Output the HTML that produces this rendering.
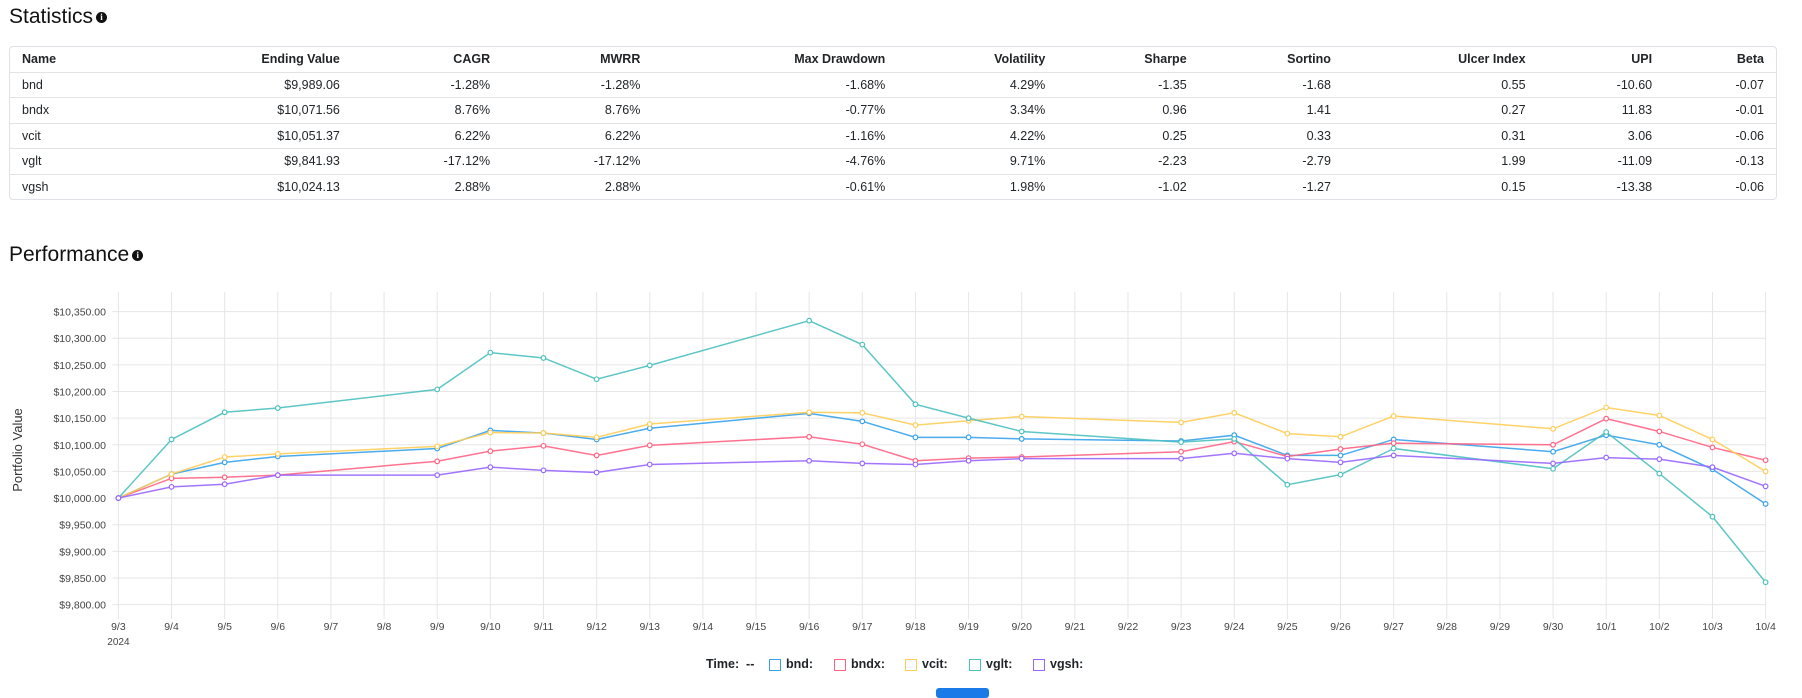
<!DOCTYPE html>
<html><head><meta charset="utf-8">
<style>
body{margin:0;width:1802px;height:695px;overflow:hidden;background:#fff;font-family:"Liberation Sans",sans-serif;color:#212529;position:relative}
.title{position:absolute;left:9px;font-size:21px;color:#111}
.info{display:inline-block;width:11px;height:11px;border-radius:50%;background:#111;color:#fff;font-size:9px;line-height:11px;text-align:center;font-weight:bold;vertical-align:3px;margin-left:3px;font-family:"Liberation Serif",serif}
table{position:absolute;left:9px;top:46px;width:1768px;border:1px solid #dee2e6;border-radius:4px;border-collapse:separate;border-spacing:0;font-size:12.5px}
td,th{height:24.5px;padding:0 12px;text-align:right;border-top:1px solid #e3e3e3;white-space:nowrap}
tr:first-child th{border-top:none}
th{font-weight:bold}
td:first-child,th:first-child{text-align:left}
#legend{position:absolute;top:657px;left:706px;font-size:12.5px;font-weight:bold}
.lg{position:absolute;white-space:nowrap}
.box{display:inline-block;width:12px;height:12px;border:1.5px solid;vertical-align:-3px;margin-right:5px;box-sizing:border-box}
#btn{position:absolute;left:936px;top:688px;width:53px;height:10px;background:#1a7be8;border-radius:3px}
</style></head><body>
<div class="title" style="top:5px">Statistics<span class="info">i</span></div>
<table>
<tr><th>Name</th><th>Ending Value</th><th>CAGR</th><th>MWRR</th><th>Max Drawdown</th><th>Volatility</th><th>Sharpe</th><th>Sortino</th><th>Ulcer Index</th><th>UPI</th><th>Beta</th></tr>
<tr><td>bnd</td><td>$9,989.06</td><td>-1.28%</td><td>-1.28%</td><td>-1.68%</td><td>4.29%</td><td>-1.35</td><td>-1.68</td><td>0.55</td><td>-10.60</td><td>-0.07</td></tr>
<tr><td>bndx</td><td>$10,071.56</td><td>8.76%</td><td>8.76%</td><td>-0.77%</td><td>3.34%</td><td>0.96</td><td>1.41</td><td>0.27</td><td>11.83</td><td>-0.01</td></tr>
<tr><td>vcit</td><td>$10,051.37</td><td>6.22%</td><td>6.22%</td><td>-1.16%</td><td>4.22%</td><td>0.25</td><td>0.33</td><td>0.31</td><td>3.06</td><td>-0.06</td></tr>
<tr><td>vglt</td><td>$9,841.93</td><td>-17.12%</td><td>-17.12%</td><td>-4.76%</td><td>9.71%</td><td>-2.23</td><td>-2.79</td><td>1.99</td><td>-11.09</td><td>-0.13</td></tr>
<tr><td>vgsh</td><td>$10,024.13</td><td>2.88%</td><td>2.88%</td><td>-0.61%</td><td>1.98%</td><td>-1.02</td><td>-1.27</td><td>0.15</td><td>-13.38</td><td>-0.06</td></tr>
</table>
<div class="title" style="top:243px">Performance<span class="info">i</span></div>
<svg id="chart" width="1802" height="695" style="position:absolute;left:0;top:0"></svg>
<div id="legend">
<span class="lg" style="left:0">Time:&nbsp; --</span>
<span class="lg" style="left:63px"><span class="box" style="border-color:#36a2eb"></span>bnd:</span>
<span class="lg" style="left:128px"><span class="box" style="border-color:#ff6384"></span>bndx:</span>
<span class="lg" style="left:199px"><span class="box" style="border-color:#ffcd56"></span>vcit:</span>
<span class="lg" style="left:263px"><span class="box" style="border-color:#4bc0c0"></span>vglt:</span>
<span class="lg" style="left:327px"><span class="box" style="border-color:#9966ff"></span>vgsh:</span>
</div>
<div id="btn"></div>
<script>
const axisDays = ["9/3","9/4","9/5","9/6","9/7","9/8","9/9","9/10","9/11","9/12","9/13","9/14","9/15","9/16","9/17","9/18","9/19","9/20","9/21","9/22","9/23","9/24","9/25","9/26","9/27","9/28","9/29","9/30","10/1","10/2","10/3","10/4"];
const tradeDays = ["9/3","9/4","9/5","9/6","9/9","9/10","9/11","9/12","9/13","9/16","9/17","9/18","9/19","9/20","9/23","9/24","9/25","9/26","9/27","9/30","10/1","10/2","10/3","10/4"];
const yTicks = [10350,10300,10250,10200,10150,10100,10050,10000,9950,9900,9850,9800];
const bnd  = [10000,10045,10067,10078,10093,10127,10122,10110,10131,10159,10144,10114,10114,10111,10107,10118,10080,10080,10110,10087,10118,10100,10054,9989];
const bndx = [10000,10037,10039,10043,10069,10088,10098,10080,10099,10115,10101,10070,10075,10077,10087,10106,10078,10092,10103,10100,10149,10125,10095,10071];
const vcit = [10000,10045,10077,10083,10097,10123,10122,10114,10139,10161,10160,10137,10145,10153,10142,10160,10121,10115,10154,10130,10170,10155,10110,10050];
const vglt = [10000,10110,10161,10169,10204,10273,10263,10223,10249,10333,10288,10176,10150,10125,10105,10111,10025,10044,10093,10055,10124,10046,9965,9842];
const vgsh = [10000,10021,10026,10043,10043,10058,10052,10048,10063,10070,10065,10063,10070,10074,10074,10084,10074,10067,10080,10065,10076,10073,10058,10022];
const svg=document.getElementById('chart');const NS='http://www.w3.org/2000/svg';
const X0=118.4,X1=1765.6,Y350=311.6,Y800=604.6;
const xs=d=>X0+axisDays.indexOf(d)*(X1-X0)/(axisDays.length-1);
const ys=v=>Y350+(10350-v)*(Y800-Y350)/550;
function mk(t,a){const e=document.createElementNS(NS,t);for(const k in a)e.setAttribute(k,a[k]);svg.appendChild(e);return e;}
axisDays.forEach(d=>{const x=xs(d);
 const g=mk('line',{x1:x,x2:x,y1:292,y2:619,stroke:'#e6e6e6','stroke-width':1});
 
 
 const t=mk('text',{x:x,y:630,'font-size':10.5,'text-anchor':'middle',fill:'#444'});t.textContent=d;
 
 
});
const yr=mk('text',{x:xs('9/3'),y:645,'font-size':10,'text-anchor':'middle',fill:'#444'});yr.textContent='2024';


yTicks.forEach(v=>{const y=ys(v);
 const g=mk('line',{x1:X0-6,x2:X1,y1:y,y2:y,stroke:'#e6e6e6','stroke-width':1});
 
 
 const t=mk('text',{x:106,y:y+4,'font-size':10.5,'text-anchor':'end',fill:'#444'});
 t.textContent='$'+v.toLocaleString('en-US',{minimumFractionDigits:2});
 
 
});
const yt=mk('text',{x:0,y:0,'font-size':13,'text-anchor':'middle',fill:'#333',transform:'translate(22,450) rotate(-90)'});yt.textContent='Portfolio Value';


const series=[['bnd',bnd,'#36a2eb'],['bndx',bndx,'#ff6384'],['vcit',vcit,'#ffcd56'],['vglt',vglt,'#4bc0c0'],['vgsh',vgsh,'#9966ff']];
series.forEach(([n,vals,c])=>{
 const pts=vals.map((v,i)=>xs(tradeDays[i])+','+ys(v)).join(' ');
 const l=mk('polyline',{points:pts,fill:'none',stroke:c,'stroke-width':1.5,opacity:0.9});
 
 
 vals.forEach((v,i)=>{const p=mk('circle',{cx:xs(tradeDays[i]),cy:ys(v),r:2.3,fill:'#fff',stroke:c,'stroke-width':1.2});
  
  });
});
</script>
</body></html>
